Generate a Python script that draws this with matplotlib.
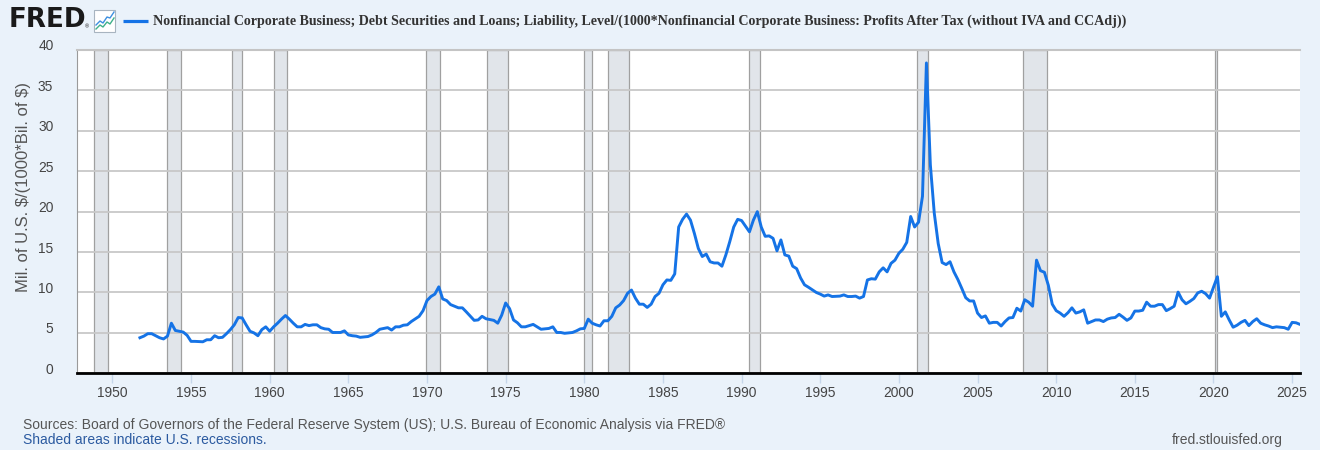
import matplotlib
matplotlib.use("Agg")
import matplotlib.pyplot as plt
from matplotlib.lines import Line2D
from matplotlib.patches import Rectangle
import matplotlib.transforms as mtransforms

# ---------------- data ----------------
quarters = [
    1951.75, 1952.0, 1952.25, 1952.5, 1953.0, 1953.25, 1953.5, 1953.75,
    1954.0, 1954.5, 1954.75, 1955.0, 1955.25, 1955.75, 1956.0, 1956.25,
    1956.5, 1956.75, 1957.0, 1957.25, 1957.5, 1957.75, 1958.0, 1958.25,
    1958.5, 1958.75, 1959.0, 1959.25, 1959.5, 1959.75, 1960.0, 1960.25,
    1960.5, 1960.75, 1961.0, 1961.25, 1961.5, 1961.75, 1962.0, 1962.25,
    1962.5, 1962.75, 1963.0, 1963.25, 1963.5, 1963.75, 1964.0, 1964.25,
    1964.5, 1964.75, 1965.0, 1965.25, 1965.5, 1965.75, 1966.25, 1966.5,
    1966.75, 1967.0, 1967.25, 1967.5, 1967.75, 1968.0, 1968.25, 1968.5,
    1968.75, 1969.0, 1969.5, 1969.75, 1970.0, 1970.25, 1970.5, 1970.75,
    1971.0, 1971.25, 1971.5, 1971.75, 1972.0, 1972.25, 1972.5, 1973.0,
    1973.25, 1973.5, 1973.75, 1974.25, 1974.5, 1974.75, 1975.0, 1975.25,
    1975.5, 1975.75, 1976.0, 1976.25, 1976.75, 1977.0, 1977.25, 1977.75,
    1978.0, 1978.25, 1978.5, 1978.75, 1979.25, 1979.5, 1979.75, 1980.0,
    1980.25, 1980.5, 1980.75, 1981.0, 1981.25, 1981.5, 1981.75, 1982.0,
    1982.25, 1982.5, 1982.75, 1983.0, 1983.25, 1983.5, 1983.75, 1984.0,
    1984.25, 1984.5, 1984.75, 1985.0, 1985.25, 1985.5, 1985.75, 1986.0,
    1986.25, 1986.5, 1986.75, 1987.0, 1987.25, 1987.5, 1987.75, 1988.0,
    1988.25, 1988.5, 1988.75, 1989.0, 1989.25, 1989.5, 1989.75, 1990.0,
    1990.25, 1990.5, 1990.75, 1991.0, 1991.25, 1991.5, 1991.75, 1992.0,
    1992.25, 1992.5, 1992.75, 1993.0, 1993.25, 1993.5, 1993.75, 1994.0,
    1994.25, 1994.75, 1995.0, 1995.25, 1995.5, 1995.75, 1996.25, 1996.5,
    1996.75, 1997.0, 1997.25, 1997.5, 1997.75, 1998.0, 1998.25, 1998.5,
    1998.75, 1999.0, 1999.25, 1999.5, 1999.75, 2000.0, 2000.25, 2000.5,
    2000.75, 2001.0, 2001.25, 2001.5, 2001.75, 2002.0, 2002.25, 2002.5,
    2002.75, 2003.0, 2003.25, 2003.5, 2003.75, 2004.0, 2004.25, 2004.5,
    2004.75, 2005.0, 2005.25, 2005.5, 2005.75, 2006.0, 2006.25, 2006.5,
    2006.75, 2007.0, 2007.25, 2007.5, 2007.75, 2008.0, 2008.25, 2008.5,
    2008.75, 2009.0, 2009.25, 2009.5, 2009.75, 2010.0, 2010.25, 2010.5,
    2010.75, 2011.0, 2011.25, 2011.5, 2011.75, 2012.0, 2012.25, 2012.5,
    2012.75, 2013.0, 2013.25, 2013.5, 2013.75, 2014.0, 2014.25, 2014.5,
    2014.75, 2015.0, 2015.25, 2015.5, 2015.75, 2016.0, 2016.25, 2016.5,
    2016.75, 2017.0, 2017.25, 2017.5, 2017.75, 2018.0, 2018.25, 2018.5,
    2018.75, 2019.0, 2019.25, 2019.5, 2019.75, 2020.0, 2020.25, 2020.5,
    2020.75, 2021.0, 2021.25, 2021.5, 2021.75, 2022.0, 2022.25, 2022.5,
    2022.75, 2023.0, 2023.25, 2023.5, 2023.75, 2024.0, 2024.25, 2024.5,
    2024.75, 2025.0, 2025.25, 2025.5,
]
ratio = [
    4.4, 4.6, 4.9, 4.9, 4.4, 4.25, 4.6, 6.2,
    5.3, 5.1, 4.7, 3.95, 3.95, 3.9, 4.15, 4.15,
    4.65, 4.4, 4.45, 4.9, 5.4, 6.0, 6.9, 6.85,
    6.0, 5.2, 5.0, 4.65, 5.4, 5.75, 5.2, 5.75,
    6.2, 6.7, 7.15, 6.7, 6.2, 5.75, 5.75, 6.05,
    5.9, 6.0, 6.0, 5.65, 5.5, 5.45, 5.05, 5.05,
    5.05, 5.25, 4.75, 4.65, 4.6, 4.45, 4.55, 4.75,
    5.05, 5.45, 5.55, 5.65, 5.35, 5.75, 5.75, 5.95,
    6.0, 6.4, 7.05, 7.75, 9.0, 9.5, 9.8, 10.7,
    9.2, 9.0, 8.5, 8.3, 8.1, 8.1, 7.6, 6.55,
    6.6, 7.05, 6.75, 6.55, 6.2, 7.2, 8.7, 8.0,
    6.6, 6.25, 5.75, 5.75, 6.05, 5.75, 5.45, 5.55,
    5.75, 5.05, 5.05, 4.95, 5.05, 5.25, 5.5, 5.55,
    6.7, 6.2, 6.0, 5.85, 6.5, 6.5, 7.05, 8.1,
    8.45, 9.0, 9.9, 10.3, 9.3, 8.55, 8.55, 8.15,
    8.55, 9.5, 9.9, 10.95, 11.55, 11.5, 12.3, 18.1,
    19.05, 19.7, 18.95, 17.3, 15.45, 14.45, 14.75, 13.8,
    13.65, 13.65, 13.25, 14.65, 16.3, 18.1, 19.05, 18.9,
    18.2, 17.5, 18.95, 20.0, 18.1, 16.95, 17.0, 16.7,
    15.15, 16.5, 14.65, 14.5, 13.25, 12.95, 11.8, 10.95,
    10.65, 10.0, 9.8, 9.55, 9.7, 9.5, 9.55, 9.7,
    9.5, 9.5, 9.55, 9.3, 9.5, 11.55, 11.7, 11.65,
    12.55, 13.05, 12.55, 13.6, 14.0, 14.85, 15.35, 16.2,
    19.4, 18.1, 18.7, 21.9, 38.4, 25.8, 19.8, 16.05,
    13.7, 13.45, 13.8, 12.55, 11.6, 10.5, 9.35, 8.95,
    8.95, 7.45, 6.9, 7.1, 6.2, 6.3, 6.3, 5.85,
    6.4, 6.85, 6.9, 8.05, 7.7, 9.1, 8.8, 8.3,
    14.0, 12.7, 12.5, 10.9, 8.55, 7.75, 7.45, 7.05,
    7.5, 8.1, 7.45, 7.6, 7.85, 6.2, 6.4, 6.6,
    6.6, 6.4, 6.7, 6.85, 6.9, 7.3, 6.95, 6.55,
    6.85, 7.7, 7.7, 7.8, 8.8, 8.3, 8.3, 8.5,
    8.5, 7.75, 8.0, 8.3, 10.05, 9.1, 8.6, 8.9,
    9.25, 9.95, 10.15, 9.85, 9.3, 10.65, 11.95, 7.05,
    7.6, 6.6, 5.7, 5.95, 6.3, 6.55, 5.9, 6.4,
    6.75, 6.2, 6.0, 5.85, 5.65, 5.75, 5.7, 5.65,
    5.45, 6.3, 6.25, 6.05,
]
# NBER recessions: (start year, month), (end year, month)
recessions = [
    ((1948, 11), (1949, 10)), ((1953, 7), (1954, 5)), ((1957, 8), (1958, 4)),
    ((1960, 4), (1961, 2)), ((1969, 12), (1970, 11)), ((1973, 11), (1975, 3)),
    ((1980, 1), (1980, 7)), ((1981, 7), (1982, 11)), ((1990, 7), (1991, 3)),
    ((2001, 3), (2001, 11)), ((2007, 12), (2009, 6)), ((2020, 2), (2020, 4)),
]
x_ticks = list(range(1950, 2026, 5))
y_ticks = list(range(0, 41, 5))
x_range = (1947.75, 2025.5)
y_range = (0, 40)

title = ("Nonfinancial Corporate Business; Debt Securities and Loans; Liability, "
         "Level/(1000*Nonfinancial Corporate Business: Profits After Tax "
         "(without IVA and CCAdj))")
y_label = r"Mil. of U.S. \$/(1000*Bil. of \$)"
source_text = ("Sources: Board of Governors of the Federal Reserve System (US); "
               "U.S. Bureau of Economic Analysis via FRED\u00ae")
shade_text = "Shaded areas indicate U.S. recessions."
site_text = "fred.stlouisfed.org"

# ---------------- styling ----------------
W, H = 1320, 450
BG = "#eaf2fa"
LINE = "#1573e6"
SANS = ["Liberation Sans", "DejaVu Sans"]
SERIF = ["Liberation Serif", "DejaVu Serif"]


def fx(px):
    return px / W


def fy(py):
    return 1 - py / H


fig = plt.figure(figsize=(W / 100, H / 100), dpi=100)
fig.patch.set_facecolor(BG)

left, right, top, bottom = 77, 1300, 50, 373.3
ax = fig.add_axes([fx(left), fy(bottom), fx(right - left), (bottom - top) / H])
ax.set_facecolor("white")
ax.set_xlim(*x_range)
ax.set_ylim(*y_range)

# recession shading
for (sy, sm), (ey, em) in recessions:
    ax.axvspan(sy + (sm - 1) / 12, ey + (em - 1) / 12, facecolor="#e1e5ea",
               edgecolor="#a0a0a0", linewidth=0.9, zorder=0.3)

ax.set_axisbelow(True)
ax.grid(axis="y", color="#c8c8c8", linewidth=1.3, zorder=0.5)
ax.grid(axis="x", visible=False)

ax.plot(quarters, ratio, color=LINE, linewidth=2.1, solid_joinstyle="round",
        zorder=3)

# spines
ax.spines["right"].set_visible(False)
ax.spines["top"].set_color("#c4c4c4")
ax.spines["top"].set_linewidth(1.5)
ax.spines["left"].set_color("#9a9a9a")
ax.spines["left"].set_linewidth(0.8)
ax.spines["bottom"].set_color("black")
ax.spines["bottom"].set_linewidth(2.0)
ax.spines["bottom"].set_zorder(4)

# ticks
ax.set_xticks(x_ticks)
ax.set_xticklabels([str(t) for t in x_ticks])
ax.set_yticks(y_ticks)
ax.set_yticklabels([str(t) for t in y_ticks])
ax.tick_params(axis="x", length=7.5, width=1, color="#c6d6ea", pad=1.5,
               labelsize=9.9, labelcolor="#444444")
ax.tick_params(axis="y", length=0, pad=17, labelsize=9.9, labelcolor="#444444")
for lab in ax.get_xticklabels() + ax.get_yticklabels():
    lab.set_fontfamily(SANS)
offset = mtransforms.ScaledTranslation(0, 5 / 100, fig.dpi_scale_trans)
for lab in ax.get_yticklabels():
    lab.set_transform(lab.get_transform() + offset)

# y label
fig.text(fx(23.5), fy(186.5), y_label, rotation=90, ha="center", va="center",
         fontsize=12.0, color="#555555", family=SANS)

# header: logo, icon, legend line and title
fig.text(fx(9), fy(20), "FRED", ha="left", va="center", fontsize=18.8,
         fontweight="heavy", color="#1a1a1a", family=["DejaVu Sans"])
fig.text(fx(85), fy(27), "\u00ae", ha="left", va="center", fontsize=4,
         color="#1a1a1a", family=SANS)
fig.add_artist(Rectangle((fx(94), fy(32)), fx(21), 22 / H, transform=fig.transFigure,
                         facecolor="white", edgecolor="#a8b4c0", linewidth=0.8))
fig.add_artist(Line2D([fx(96), fx(100), fx(103), fx(107), fx(110), fx(114)],
                      [fy(25), fy(21), fy(23), fy(17), fy(18), fy(12)],
                      transform=fig.transFigure, color="#3d8fe0", linewidth=1.0))
fig.add_artist(Line2D([fx(96), fx(100), fx(103), fx(107), fx(110), fx(114)],
                      [fy(29), fy(25), fy(27), fy(22), fy(24), fy(18)],
                      transform=fig.transFigure, color="#3fb08a", linewidth=1.0))
fig.add_artist(Line2D([fx(123), fx(148)], [fy(21), fy(21)], transform=fig.transFigure,
                      color=LINE, linewidth=2.3, solid_capstyle="butt"))
fig.text(fx(153), fy(21), title, ha="left", va="center", fontsize=10.08,
         fontweight="bold", color="#333333", family=SERIF)

# footer
fig.text(fx(23), fy(425), source_text, ha="left", va="center", fontsize=10.0,
         color="#555555", family=SANS)
fig.text(fx(23), fy(440), shade_text, ha="left", va="center", fontsize=10.0,
         color="#2b5aa0", family=SANS)
fig.text(fx(1283), fy(440), site_text, ha="right", va="center", fontsize=10.0,
         color="#555555", family=SANS)

fig.savefig("out.png", dpi=100, facecolor=BG)
